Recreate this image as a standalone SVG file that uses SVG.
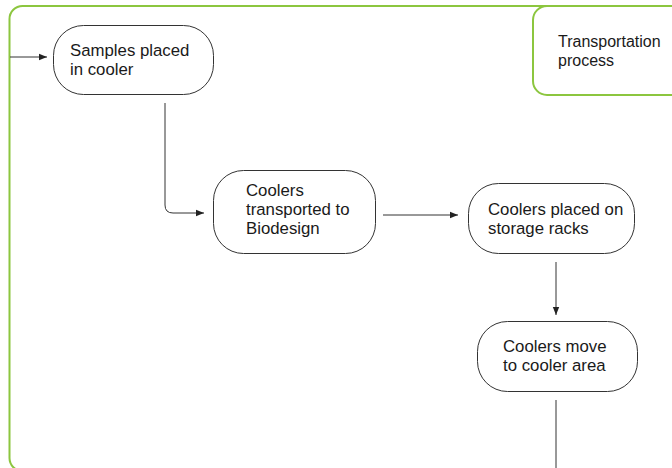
<svg xmlns="http://www.w3.org/2000/svg" width="672" height="468" viewBox="0 0 672 468">
  <style>
    .frame { fill: none; stroke: #8cc63f; stroke-width: 2; }
    .node rect { fill: #ffffff; stroke: #333333; stroke-width: 1; }
    .label { font-family: "Liberation Sans", Arial, sans-serif; font-size: 16.8px; fill: #1a1a1a; }
    .title { font-family: "Liberation Sans", Arial, sans-serif; font-size: 16px; fill: #1a1a1a; }
    .conn { fill: none; stroke: #333333; stroke-width: 1; }
  </style>
  <defs>
    <marker id="arrow" viewBox="0 0 8 8" refX="8" refY="4" markerWidth="8" markerHeight="8" markerUnits="userSpaceOnUse" orient="auto">
      <path d="M0,0.8 L8,4 L0,7.2 Z" fill="#222222"/>
    </marker>
  </defs>

  <rect width="672" height="468" fill="#ffffff"/>

  <!-- swimlane frame -->
  <rect class="frame" x="9.5" y="6" width="700" height="465" rx="13"/>

  <g id="lane-title">
    <rect class="frame" x="533" y="6" width="160" height="89" rx="14" fill="#ffffff"/>
    <text class="title" x="558" y="47">Transportation</text>
    <text class="title" x="558" y="66">process</text>
  </g>

  <g id="connectors">
    <line class="conn" x1="10" y1="57" x2="47" y2="57" marker-end="url(#arrow)"/>
    <path class="conn" d="M165,103 V205 Q165,213 173,213 H204" marker-end="url(#arrow)"/>
    <line class="conn" x1="383" y1="215" x2="458" y2="215" marker-end="url(#arrow)"/>
    <line class="conn" x1="556" y1="262" x2="556" y2="315" marker-end="url(#arrow)"/>
    <line class="conn" x1="556" y1="400" x2="556" y2="468"/>
  </g>

  <g id="samples-placed" class="node">
    <rect x="53.5" y="25.5" width="160" height="69" rx="30"/>
    <text class="label" x="70" y="55.5">Samples placed</text>
    <text class="label" x="70" y="74.5">in cooler</text>
  </g>

  <g id="coolers-transported" class="node">
    <rect x="213.5" y="170.5" width="162" height="83" rx="30"/>
    <text class="label" x="246" y="196">Coolers</text>
    <text class="label" x="246" y="215">transported to</text>
    <text class="label" x="246" y="234">Biodesign</text>
  </g>

  <g id="coolers-racks" class="node">
    <rect x="468.5" y="183.5" width="166" height="70" rx="30"/>
    <text class="label" x="488" y="215">Coolers placed on</text>
    <text class="label" x="488" y="234">storage racks</text>
  </g>

  <g id="coolers-move" class="node">
    <rect x="477.5" y="321.5" width="160" height="70" rx="30"/>
    <text class="label" x="503" y="352">Coolers move</text>
    <text class="label" x="503" y="371">to cooler area</text>
  </g>
</svg>
